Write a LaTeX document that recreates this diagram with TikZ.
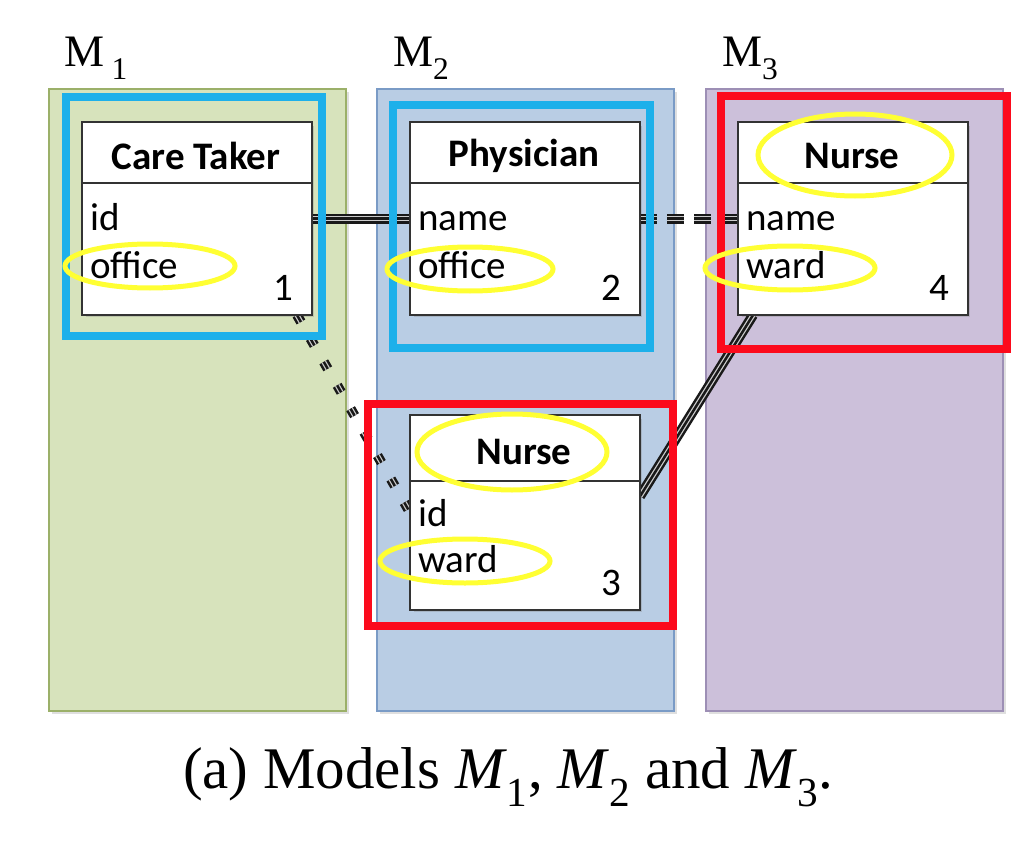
\documentclass[tikz,border=0pt]{standalone}
\usepackage{fontspec}
\setmainfont{Liberation Serif}
\newfontfamily\umlfont{Carlito}
\usetikzlibrary{shadows}

\definecolor{greenfill}{HTML}{D7E3BC}
\definecolor{greenline}{HTML}{9BB069}
\definecolor{bluefill}{HTML}{B9CDE4}
\definecolor{blueline}{HTML}{7A9BC6}
\definecolor{purplefill}{HTML}{CCC0DA}
\definecolor{purpleline}{HTML}{9D8FB5}
\definecolor{hlblue}{HTML}{1DB0EA}
\definecolor{hlred}{HTML}{FC0A1C}
\definecolor{hlyellow}{HTML}{FFFF33}

\tikzset{
  panel/.style={draw=#1line, fill=#1fill, line width=2pt, anchor=north west,
    minimum width=297pt, minimum height=622pt,
    drop shadow={opacity=0.25, shadow xshift=3pt, shadow yshift=-3pt}},
  clsbox/.style={draw=black!80, fill=white, line width=2pt, anchor=north west,
    minimum width=228pt, minimum height=191pt,
    drop shadow={opacity=0.3, shadow xshift=3pt, shadow yshift=-3pt}},
  cname/.style={font=\umlfont\bfseries\fontsize{39}{43}\selectfont, inner sep=0pt},
  attr/.style={font=\umlfont\fontsize{39}{43}\selectfont, anchor=base west, inner sep=0pt},
  cnum/.style={font=\umlfont\fontsize{39}{43}\selectfont, anchor=base east, inner sep=0pt},
  mlabel/.style={font=\fontsize{45}{49}\selectfont, anchor=base west, inner sep=0pt},
  conn/.style={draw=black!90, line width=10pt,
    postaction={draw=white!80!black, line width=5pt},
    postaction={draw=black!90, line width=2.5pt}},
  hlbox/.style={draw=#1, line width=8pt},
  hlring/.style={draw=hlyellow, line width=5pt}
}

\begin{document}
\begin{tikzpicture}[x=1pt,y=-1pt]
\useasboundingbox (0,0) rectangle (1020,864);

% the three models
\node[panel=green] (pM1) at (48,88) {};
\node[panel=blue] (pM2) at (376,88) {};
\node[panel=purple] (pM3) at (705,88) {};
\node[mlabel] (lM1) at (64,67) {M\,\textsubscript{1}};
\node[mlabel] (lM2) at (393,67) {M\textsubscript{2}};
\node[mlabel] (lM3) at (722,67) {M\textsubscript{3}};

% classes
\node[clsbox] (ct) at (82,122) {};
\node[clsbox] (ph) at (410,122) {};
\node[clsbox] (nb) at (738,122) {};
\node[clsbox, minimum height=193pt] (na) at (410,415) {};

% correspondences
\draw[conn] (ct.east) -- (ph.west);
\draw[conn, dash pattern=on 17pt off 10pt] (ph.east) -- (nb.west);
\draw[conn, dash pattern=on 8pt off 19pt] (ct.-44) -- (na.west);
\draw[conn] (na.8) -- (nb.-136);

% redraw the boxes over the line ends
\foreach \b/\h in {ct/61, ph/61, nb/61, na/66} {
  \draw[line width=2pt, black!80, fill=white] (\b.north west) rectangle (\b.south east);
  \draw[line width=2pt, black!80] ([yshift=-\h pt]\b.north west) -- ([yshift=-\h pt]\b.north east);
}

\node[cname] (ctT) at (196,156) {Care Taker};
\node[attr] (ctA) at (90,230) {id};
\node[attr] (ctB) at (90,278) {office};
\node[cnum] (ctN) at (293,300) {1};

\node[cname] (phT) at (524,156) {Physician};
\node[attr] (phA) at (418,230) {name};
\node[attr] (phB) at (418,278) {office};
\node[cnum] (phN) at (621,300) {2};

\node[cname] (nbT) at (852,156) {Nurse};
\node[attr] (nbA) at (746,230) {name};
\node[attr] (nbB) at (746,278) {ward};
\node[cnum] (nbN) at (949,300) {4};

\node[cname] (naT) at (524,452) {Nurse};
\node[attr] (naA) at (418,526) {id};
\node[attr] (naB) at (418,572) {ward};
\node[cnum] (naN) at (621,595) {3};

% highlights
\draw[hlbox=hlblue] (66,97) rectangle (322,336);
\draw[hlbox=hlblue] (393,105) rectangle (650,348);
\draw[hlbox=hlred] (721,96) rectangle (1007,349);
\draw[hlbox=hlred] (368,404) rectangle (673,626);
\draw[hlring] (150,266) ellipse [x radius=85, y radius=22];
\draw[hlring] (470,269) ellipse [x radius=83, y radius=22];
\draw[hlring] (790,268) ellipse [x radius=85, y radius=22];
\draw[hlring] (855,155) ellipse [x radius=97, y radius=41];
\draw[hlring] (512,452) ellipse [x radius=95, y radius=38];
\draw[hlring] (465,561) ellipse [x radius=85, y radius=22];

\node[font=\fontsize{59}{63}\selectfont, inner sep=0pt, anchor=base] (cap) at (508,788)
  {(a) Models \textit{M}\textsubscript{1}, \textit{M}\textsubscript{2} and \textit{M}\textsubscript{3}.};
\end{tikzpicture}
\end{document}
